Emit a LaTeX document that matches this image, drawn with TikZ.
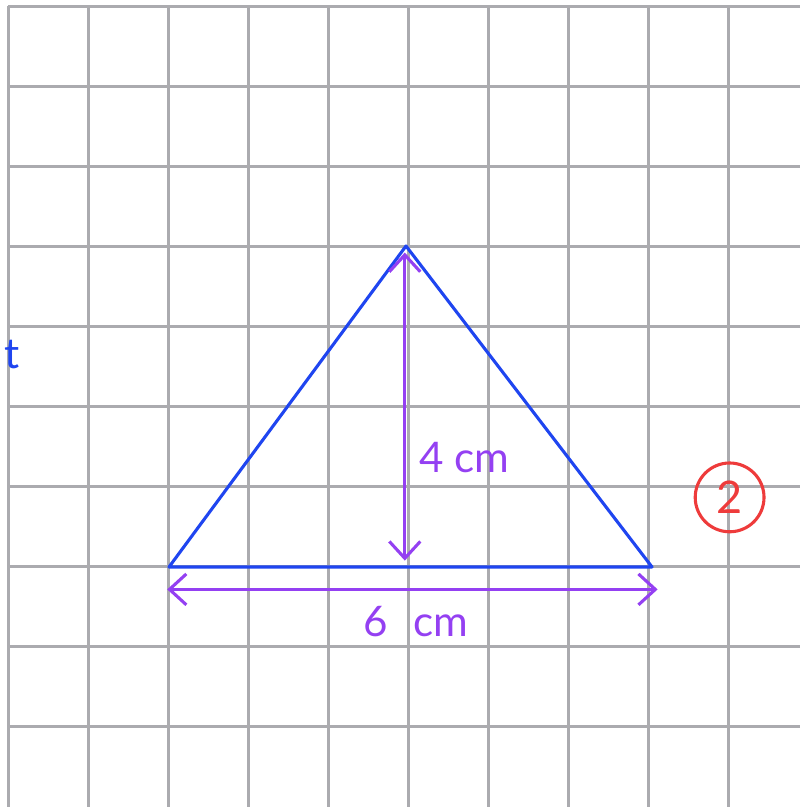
\documentclass[tikz,border=0pt]{standalone}
\usepackage{fontspec}
\setmainfont{Lato}
\definecolor{gridgray}{HTML}{ABABAF}
\definecolor{triblue}{HTML}{1F45F0}
\definecolor{dimpurple}{HTML}{9440F2}
\definecolor{markred}{HTML}{EE3B3B}
\usetikzlibrary{positioning, arrows.meta, calc}

\begin{document}
\begin{tikzpicture}[
    >={Straight Barb[length=6pt, width=11pt]},
    gridline/.style={gridgray, line width=0.9pt},
    side/.style={triblue, line width=1.1pt, line join=round},
    dim/.style={<->, dimpurple, line width=1.1pt},
    lbl/.style={font=\fontsize{15}{18}\selectfont, text=dimpurple, inner sep=1pt},
  ]
  \useasboundingbox (0,0) rectangle (10,10.0875);

  % squared paper
  \foreach \k in {0,...,9}
    \draw[gridline] ({0.106+\k},0) -- ({0.106+\k},10.006);
  \foreach \k in {0,...,9}
    \draw[gridline] (0.106,{10.006-\k}) -- (10,{10.006-\k});

  % triangle
  \coordinate (apex) at (5.075,7.0125);
  \coordinate (bl) at (2.1125,3.0);
  \coordinate (br) at (8.15,3.0);
  \draw[side] (bl) -- (apex) -- (br) -- cycle;

  % height and base
  \coordinate (htop) at (5.06,6.93);
  \coordinate (hbot) at (5.06,3.08);
  \draw[dim] (htop) -- (hbot);
  \coordinate (bleft) at (2.09,2.72);
  \coordinate (bright) at (8.22,2.72);
  \draw[dim] (bleft) -- (bright);

  \node[lbl, anchor=west] (hlbl) at (5.2,4.37) {4 cm};
  \node[lbl] (blbl) at (5.2,2.32) {6\hspace{0.6em}cm};

  % question number
  \node[circle, draw=markred, line width=1.1pt, minimum size=0.86cm,
        text=markred, font=\fontsize{16}{18}\selectfont] (qnum) at (9.12,3.87) {2};

  % cut-off text at the left edge
  \node[text=triblue, font=\fontsize{15}{18}\selectfont, inner sep=0pt] (cut) at (0.15,5.65) {t};
\end{tikzpicture}
\end{document}
